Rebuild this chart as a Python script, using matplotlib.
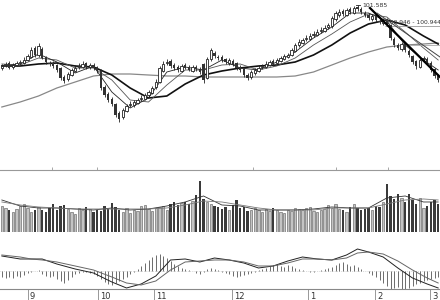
import matplotlib
matplotlib.use("Agg")
import matplotlib.pyplot as plt
import matplotlib.transforms as mtransforms
import numpy as np

# daily bars, bond futures
opens = [99.70, 99.78, 99.84, 99.72, 99.80, 99.84, 99.86, 99.95, 100.04, 100.30,
         100.08, 100.28, 100.02, 99.86, 99.84, 99.78, 99.70, 99.42, 99.36, 99.50,
         99.62, 99.72, 99.74, 99.84, 99.72, 99.80, 99.72, 99.62, 99.14, 98.92,
         98.76, 98.62, 98.34, 98.24, 98.42, 98.58, 98.60, 98.66, 98.76, 98.78,
         98.90, 98.96, 99.12, 99.28, 99.62, 99.84, 99.90, 99.78, 99.72, 99.62,
         99.78, 99.72, 99.62, 99.74, 99.68, 99.82, 99.40, 99.96, 100.16, 100.04,
         100.02, 99.96, 99.86, 99.92, 99.84, 99.72, 99.66, 99.50, 99.42, 99.56,
         99.62, 99.72, 99.74, 99.80, 99.90, 99.84, 99.92, 99.98, 100.04, 100.10,
         100.22, 100.40, 100.46, 100.56, 100.58, 100.68, 100.70, 100.80, 100.82, 100.92,
         100.96, 101.18, 101.30, 101.40, 101.30, 101.46, 101.36, 101.52, 101.46, 101.36,
         101.30, 101.18, 101.28, 101.12, 101.06, 101.16, 100.98, 100.58, 100.40, 100.28,
         100.44, 100.22, 100.06, 99.90, 99.74, 99.96, 99.98, 99.86, 99.66, 99.48]
closes = [99.76, 99.82, 99.70, 99.79, 99.85, 99.88, 99.94, 100.06, 100.24, 100.10,
          100.36, 100.00, 99.88, 99.82, 99.76, 99.64, 99.40, 99.30, 99.52, 99.64,
          99.70, 99.76, 99.82, 99.73, 99.79, 99.70, 99.64, 99.10, 98.89, 98.74,
          98.62, 98.30, 98.16, 98.44, 98.56, 98.62, 98.68, 98.74, 98.80, 98.89,
          98.98, 99.10, 99.28, 99.70, 99.82, 99.88, 99.76, 99.70, 99.64, 99.76,
          99.70, 99.64, 99.73, 99.67, 99.58, 99.34, 99.96, 100.24, 100.06, 100.00,
          99.94, 99.88, 99.94, 99.82, 99.70, 99.64, 99.49, 99.40, 99.58, 99.64,
          99.70, 99.76, 99.82, 99.88, 99.82, 99.94, 100.00, 100.06, 100.09, 100.24,
          100.39, 100.48, 100.54, 100.60, 100.66, 100.72, 100.78, 100.84, 100.90, 100.99,
          101.20, 101.36, 101.38, 101.32, 101.44, 101.38, 101.50, 101.47, 101.38, 101.29,
          101.20, 101.26, 101.14, 101.08, 101.14, 101.02, 100.60, 100.39, 100.30, 100.42,
          100.24, 100.09, 99.88, 99.76, 99.94, 100.00, 99.88, 99.64, 99.46, 99.34]
highs = [99.82, 99.88, 99.90, 99.84, 99.92, 99.94, 100.02, 100.12, 100.32, 100.36,
         100.44, 100.34, 100.06, 99.92, 99.90, 99.82, 99.74, 99.48, 99.58, 99.70,
         99.78, 99.84, 99.90, 99.88, 99.86, 99.84, 99.76, 99.66, 99.20, 98.98,
         98.82, 98.66, 98.40, 98.50, 98.62, 98.70, 98.74, 98.80, 98.88, 98.96,
         99.04, 99.16, 99.36, 99.76, 99.90, 99.96, 99.96, 99.84, 99.78, 99.82,
         99.84, 99.78, 99.80, 99.80, 99.72, 99.86, 100.02, 100.30, 100.22, 100.10,
         100.08, 100.00, 100.00, 99.98, 99.88, 99.78, 99.70, 99.56, 99.64, 99.70,
         99.78, 99.82, 99.90, 99.94, 99.96, 100.00, 100.06, 100.12, 100.16, 100.30,
         100.46, 100.56, 100.60, 100.68, 100.74, 100.80, 100.86, 100.92, 100.98, 101.06,
         101.26, 101.42, 101.46, 101.46, 101.50, 101.52, 101.56, 101.585, 101.52, 101.42,
         101.34, 101.32, 101.32, 101.18, 101.20, 101.20, 101.02, 100.62, 100.46, 100.48,
         100.48, 100.26, 100.10, 99.94, 100.00, 100.06, 100.02, 99.90, 99.70, 99.52]
lows = [99.64, 99.74, 99.66, 99.68, 99.76, 99.80, 99.82, 99.92, 100.00, 100.04,
        100.02, 99.96, 99.82, 99.76, 99.70, 99.58, 99.34, 99.24, 99.32, 99.46,
        99.58, 99.68, 99.70, 99.68, 99.68, 99.64, 99.56, 99.04, 98.84, 98.68,
        98.56, 98.22, 98.08, 98.18, 98.38, 98.52, 98.54, 98.62, 98.70, 98.74,
        98.84, 98.92, 99.08, 99.24, 99.58, 99.78, 99.70, 99.64, 99.58, 99.58,
        99.66, 99.60, 99.58, 99.62, 99.52, 99.24, 99.36, 99.90, 100.00, 99.94,
        99.88, 99.82, 99.80, 99.76, 99.64, 99.58, 99.42, 99.34, 99.36, 99.50,
        99.58, 99.66, 99.70, 99.76, 99.76, 99.80, 99.88, 99.94, 100.00, 100.06,
        100.18, 100.34, 100.42, 100.50, 100.54, 100.62, 100.66, 100.76, 100.78, 100.88,
        100.90, 101.12, 101.24, 101.26, 101.26, 101.32, 101.32, 101.40, 101.32, 101.22,
        101.14, 101.12, 101.08, 101.02, 101.00, 100.96, 100.54, 100.32, 100.24, 100.22,
        100.18, 100.02, 99.82, 99.68, 99.70, 99.90, 99.82, 99.58, 99.40, 99.28]

volume = [26, 24, 22, 20, 23, 26, 28, 24, 20, 22,
          25, 22, 20, 24, 28, 22, 26, 27, 23, 20,
          18, 24, 22, 25, 23, 20, 22, 21, 26, 23,
          29, 25, 22, 20, 24, 19, 22, 21, 26, 27,
          23, 21, 24, 25, 26, 22, 28, 30, 27, 29,
          30, 28, 31, 37, 51, 33, 30, 28, 26, 25,
          23, 25, 22, 27, 32, 24, 25, 21, 22, 24,
          22, 20, 23, 21, 24, 22, 20, 19, 22, 21,
          24, 23, 22, 24, 25, 21, 20, 22, 23, 27,
          24, 28, 23, 22, 20, 25, 28, 24, 22, 23,
          24, 22, 26, 25, 30, 48, 36, 33, 38, 34,
          30, 38, 32, 28, 34, 24, 26, 30, 32, 28]

# moving averages at these bar positions
ma_idx = [0, 5, 10, 15, 20, 25, 30, 35, 40, 45, 50, 55, 60, 65, 70, 75, 80, 85,
          90, 95, 100, 105, 110, 115, 119]
ma5 = [99.76, 99.82, 100.12, 99.88, 99.55, 99.76, 98.98, 98.50, 98.80, 99.58,
       99.73, 99.64, 99.94, 99.70, 99.64, 99.88, 100.18, 100.60, 100.93, 101.35,
       101.35, 101.11, 100.39, 99.94, 99.64]
ma10 = [99.82, 99.79, 100.00, 99.94, 99.70, 99.70, 99.34, 98.74, 98.68, 99.19,
        99.64, 99.64, 99.79, 99.82, 99.64, 99.76, 100.00, 100.39, 100.72, 101.08,
        101.32, 101.23, 100.78, 100.30, 99.94]
ma20 = [99.76, 99.76, 99.82, 99.85, 99.76, 99.73, 99.49, 99.10, 98.80, 98.86,
        99.22, 99.49, 99.61, 99.70, 99.76, 99.79, 99.88, 100.09, 100.39, 100.75,
        101.02, 101.14, 100.99, 100.66, 100.42]
ma60 = [98.53, 98.68, 98.86, 99.10, 99.28, 99.46, 99.52, 99.52, 99.49, 99.46,
        99.46, 99.43, 99.43, 99.43, 99.43, 99.43, 99.46, 99.58, 99.79, 100.00,
        100.18, 100.33, 100.39, 100.42, 100.45]
vma5 = [32, 26, 24, 24, 23, 22, 24, 22, 23, 26, 30, 36, 27, 26, 22, 22, 22, 23,
        25, 24, 24, 34, 36, 30, 30]
vma10 = [30, 27, 25, 24, 23, 23, 23, 23, 23, 24, 27, 31, 30, 27, 24, 22, 22, 22,
         24, 24, 24, 28, 32, 33, 32]

macd_idx = [0, 5, 8, 11, 15, 20, 25, 30, 34, 38, 42, 46, 50, 54, 58, 62, 66, 70,
            74, 78, 82, 86, 90, 94, 97, 100, 104, 108, 112, 116, 119]
dif = [0.15, 0.12, 0.12, 0.12, 0.07, 0.02, -0.02, -0.11, -0.17, -0.13, -0.05,
       0.11, 0.12, 0.09, 0.13, 0.11, 0.08, 0.03, 0.05, 0.10, 0.14, 0.12, 0.11,
       0.16, 0.22, 0.19, 0.14, 0.03, -0.07, -0.13, -0.17]
dea = [0.16, 0.14, 0.12, 0.11, 0.09, 0.05, 0.01, -0.06, -0.12, -0.14, -0.10,
       0.01, 0.09, 0.10, 0.11, 0.11, 0.09, 0.05, 0.05, 0.08, 0.12, 0.12, 0.11,
       0.13, 0.18, 0.19, 0.17, 0.10, 0.01, -0.07, -0.12]
hist = [-0.06, -0.07, -0.06, -0.07, -0.05, -0.06, -0.04,
        -0.02, -0.01, 0.00, 0.01,
        -0.03, -0.05, -0.06, -0.05,
        -0.08, -0.10, -0.12, -0.09, -0.06,
        -0.03, -0.02, -0.01, -0.01, -0.02, -0.03,
        -0.05, -0.08, -0.11, -0.13, -0.14, -0.12,
        -0.10, -0.08, -0.06, -0.03, -0.01,
        0.02, 0.05, 0.08, 0.11, 0.14,
        0.16, 0.17, 0.15, 0.13, 0.10,
        0.07, 0.05, 0.03, 0.02, 0.01,
        0.00, -0.02, -0.03, -0.01, 0.02,
        0.03, 0.02, 0.01, -0.01, -0.02,
        -0.03, -0.05, -0.06, -0.05, -0.04,
        -0.03, -0.02, -0.01, 0.01, 0.02,
        0.03, 0.05, 0.06, 0.07, 0.05,
        0.04, 0.06, 0.05, 0.03, 0.02,
        0.01, 0.00, -0.01, -0.01, 0.00,
        0.01, 0.02, 0.03, 0.04, 0.06,
        0.08, 0.09, 0.07, 0.05, 0.06,
        0.04, 0.02, 0.00, -0.02, -0.04,
        -0.06, -0.09, -0.12, -0.15, -0.18,
        -0.17, -0.16, -0.19, -0.20, -0.17,
        -0.15, -0.13, -0.12, -0.10, -0.09,
        -0.08, -0.07, -0.06]

month_labels = ["9", "10", "11", "12", "1", "2", "3"]
month_pos = [7.1, 26.2, 41.5, 62.8, 83.5, 101.8, 116.8]

o = np.array(opens)
c = np.array(closes)
x = np.arange(len(o))
up = c >= o

fig = plt.figure(figsize=(4.4, 3.0), dpi=100)
ax1 = fig.add_axes([0, 0.44, 1, 0.56])
ax2 = fig.add_axes([0, 0.2267, 1, 0.2067])
ax3 = fig.add_axes([0, 0.0367, 1, 0.1833])
for ax in (ax1, ax2, ax3):
    ax.set_xlim(-0.5, len(o) - 0.5)
    ax.set_xticks([])
    ax.set_yticks([])
    for s in ax.spines.values():
        s.set_visible(False)

# price panel
body_lo = np.minimum(o, c)
body_h = np.maximum(np.abs(c - o), 0.012)
ax1.vlines(x, lows, highs, color="#222222", lw=0.6, zorder=2)
ax1.bar(x[up], body_h[up], bottom=body_lo[up], width=0.72, facecolor="white",
        edgecolor="#222222", lw=0.6, zorder=3)
ax1.bar(x[~up], body_h[~up], bottom=body_lo[~up], width=0.72, color="#333333",
        zorder=3)
ax1.plot(ma_idx, ma60, color="#888888", lw=0.9, zorder=1)
ax1.plot(ma_idx, ma20, color="#111111", lw=1.2, zorder=1)
ax1.plot(ma_idx, ma10, color="#555555", lw=0.6, zorder=1)
ax1.plot(ma_idx, ma5, color="#222222", lw=0.6, zorder=1)
ax1.set_ylim(96.70, 101.74)

# drawn lines and marks
ax1.plot([100.4, 119.5], [101.50, 99.43], color="black", lw=1.6, zorder=4)
ax1.plot([102.3, 119.5], [101.35, 100.03], color="#444444", lw=0.7, zorder=4)
ax1.hlines(100.946, 104.5, 119.5, color="#999999", lw=0.6)
ax1.hlines(100.39, 107.0, 119.5, color="#aaaaaa", lw=0.6)
ax1.plot([96.6, 97.8], [101.585, 101.585], color="#222222", lw=0.6)
ax1.text(98.2, 101.585, "101.585", fontsize=4.5, va="center", color="#333333")
ax1.text(104.8, 101.07, "100.946 - 100.944", fontsize=4.3, va="center",
         color="#333333")

# volume panel
ax2.bar(x[up], np.array(volume)[up], width=0.7, facecolor="#c4c4c4",
        edgecolor="#555555", lw=0.4)
ax2.bar(x[~up], np.array(volume)[~up], width=0.7, color="#3a3a3a")
ax2.plot(ma_idx, vma5, color="#333333", lw=0.6)
ax2.plot(ma_idx, vma10, color="#777777", lw=0.6)
ax2.set_ylim(0, 62)
ax2.spines["top"].set_visible(True)
ax2.spines["top"].set_color("#999999")
ax2.spines["top"].set_linewidth(0.8)
ax2.vlines([13.7, 26.0, 68.5, 91.0, 105.3], 62, 64.5, color="#999999", lw=0.6,
           clip_on=False)

# macd panel
ax3.axhline(0, color="#bbbbbb", lw=0.5, ls=":")
ax3.vlines(x, 0, hist, color="#555555", lw=0.6)
ax3.plot(macd_idx, dif, color="#222222", lw=0.7)
ax3.plot(macd_idx, dea, color="#666666", lw=0.7)
ax3.set_ylim(-0.18, 0.37)
ax3.spines["bottom"].set_visible(True)
ax3.spines["bottom"].set_color("#888888")
ax3.spines["bottom"].set_linewidth(0.8)

trans = mtransforms.blended_transform_factory(ax3.transData, fig.transFigure)
for lab, pos in zip(month_labels, month_pos):
    ax3.plot([pos, pos], [0.0, 0.0367], color="#888888", lw=0.6,
             transform=trans, clip_on=False)
    ax3.text(pos + 0.5, 0.012, lab, fontsize=6, color="#333333",
             transform=trans, va="center", ha="left")

fig.savefig("out.png", dpi=100)
